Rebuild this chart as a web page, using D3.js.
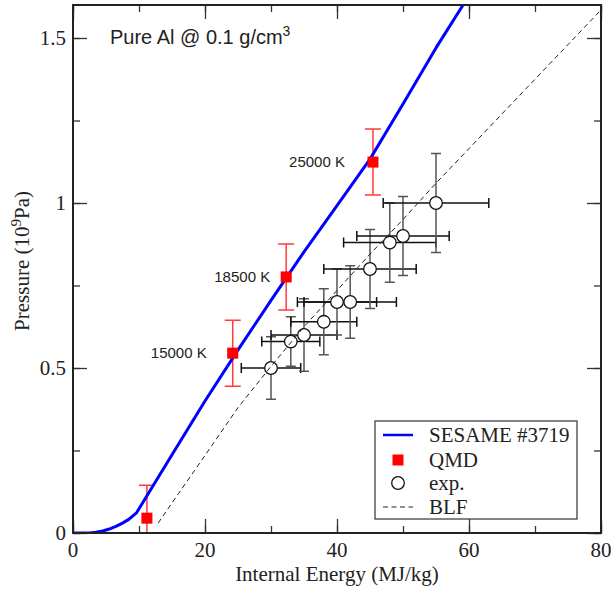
<!DOCTYPE html>
<html lang="en">
<head>
<meta charset="UTF-8">
<title>Pure Al EOS</title>
<style>
  body { margin: 0; background: #fff; }
  svg text { fill: #222; }
</style>
</head>
<body>
<div id="chart"></div>
<script src="https://cdn.jsdelivr.net/npm/d3@7/dist/d3.min.js"></script>
<script>
// SESAME #3719 isochore
const sesameE = [0, 2.5, 3.5, 4.5, 5.5, 6.5, 7.5, 8.5, 9.65, 15, 20, 25, 30, 35, 40, 45, 50, 55, 59.1, 61]
const sesameP = [0, 0, 0.002, 0.006, 0.012, 0.02, 0.03, 0.042, 0.062, 0.237, 0.4, 0.555, 0.705, 0.852, 0.992, 1.133, 1.3, 1.47, 1.6, 1.66]

// BLF fit
const blfE = [12.9, 16, 20, 25, 30, 35, 40, 45, 50, 55, 60, 65, 70, 75, 80]
const blfP = [0.03, 0.12, 0.235, 0.38, 0.505, 0.625, 0.735, 0.845, 0.95, 1.06, 1.165, 1.27, 1.375, 1.48, 1.585]

// QMD points
const qmdE = [11.2, 24.2, 32.3, 45.45]
const qmdP = [0.045, 0.545, 0.776, 1.124]
const qmdErr = [0.1, 0.1, 0.1, 0.1]
const qmdLabels = ['', '15000 K', '18500 K', '25000 K']

// experiment
const expE = [30, 33, 35, 38, 40, 42, 45, 48, 50, 55]
const expP = [0.5, 0.58, 0.6, 0.64, 0.7, 0.7, 0.8, 0.88, 0.9, 1.0]
const expEErr = [4.5, 4.4, 5, 5, 6, 7, 7, 7, 7, 8]
const expPErr = [0.095, 0.075, 0.11, 0.1, 0.1, 0.11, 0.12, 0.12, 0.12, 0.15]

const xTicks = [0, 20, 40, 60, 80]
const yTicks = [0, 0.5, 1, 1.5]
const legendLabels = ['SESAME #3719', 'QMD', 'exp.', 'BLF']

var width = 613, height = 589
var m = {left: 73, right: 12, top: 5, bottom: 56}

var x = d3.scaleLinear().domain([0, 80]).range([m.left, width - m.right])
var y = d3.scaleLinear().domain([0, 1.6]).range([height - m.bottom, m.top])

var svg = d3.select('#chart').append('svg')
    .attr('width', width)
    .attr('height', height)

svg.append('rect').attr('width', width).attr('height', height).attr('fill', '#fff')

svg.append('defs').append('clipPath').attr('id', 'plotclip')
    .append('rect')
    .attr('x', x(0)).attr('y', y(1.6))
    .attr('width', x(80) - x(0)).attr('height', y(0) - y(1.6))

var plot = svg.append('g').attr('clip-path', 'url(#plotclip)')

// ticks, mirrored on all four sides, pointing in
var serif = 'Liberation Serif, Times New Roman, serif'
var sans = 'Liberation Sans, Arial, sans-serif'
var tickCol = '#333'

function inTicks(axis, len) {
    return axis.tickSize(-len).tickFormat('').tickSizeOuter(0)
}
var xMinor = d3.range(0, 81, 10), yMinor = d3.range(0, 1.61, 0.25)

var axes = [
    [d3.axisBottom(x).tickValues(xMinor), `translate(0,${y(0)})`, 7],
    [d3.axisBottom(x).tickValues(xTicks), `translate(0,${y(0)})`, 14],
    [d3.axisTop(x).tickValues(xMinor), `translate(0,${y(1.6)})`, 7],
    [d3.axisTop(x).tickValues(xTicks), `translate(0,${y(1.6)})`, 14],
    [d3.axisLeft(y).tickValues(yMinor), `translate(${x(0)},0)`, 7],
    [d3.axisLeft(y).tickValues(yTicks), `translate(${x(0)},0)`, 14],
    [d3.axisRight(y).tickValues(yMinor), `translate(${x(80)},0)`, 7],
    [d3.axisRight(y).tickValues(yTicks), `translate(${x(80)},0)`, 14]
]
axes.forEach(a => {
    var g = svg.append('g').attr('transform', a[1]).call(inTicks(a[0], a[2]))
    g.select('.domain').remove()
    g.selectAll('line').attr('stroke', tickCol).attr('stroke-width', 1.3)
})

// tick labels
svg.append('g').selectAll('text')
    .data(xTicks).join('text')
    .attr('x', d => x(d)).attr('y', y(0) + 24)
    .attr('text-anchor', 'middle')
    .style('font-family', serif).style('font-size', '21px')
    .text(d => d)

svg.append('g').selectAll('text')
    .data(yTicks).join('text')
    .attr('x', x(0) - 7).attr('y', d => y(d)).attr('dy', '0.33em')
    .attr('text-anchor', 'end')
    .style('font-family', serif).style('font-size', '21px')
    .text(d => d)

svg.append('text')
    .attr('x', (x(0) + x(80)) / 2).attr('y', 581)
    .attr('text-anchor', 'middle')
    .style('font-family', serif).style('font-size', '21px')
    .text('Internal Energy (MJ/kg)')

var yt = svg.append('text')
    .attr('transform', `translate(29,${(y(0) + y(1.6)) / 2 - 8}) rotate(-90)`)
    .attr('text-anchor', 'middle')
    .style('font-family', serif).style('font-size', '21px')
yt.append('tspan').text('Pressure (10')
yt.append('tspan').attr('dy', -8).style('font-size', '15px').text('9')
yt.append('tspan').attr('dy', 8).text('Pa)')

// exp error bars
var expIdx = d3.range(expE.length)
var hCap = 5
var eb = plot.append('g')
expIdx.forEach(i => {
    var cx = x(expE[i]), cy = y(expP[i])
    var x0 = x(expE[i] - expEErr[i]), x1 = x(expE[i] + expEErr[i])
    var y0 = y(expP[i] - expPErr[i]), y1 = y(expP[i] + expPErr[i])
    eb.append('path')
        .attr('d', `M${cx},${y0}V${y1}M${cx - hCap},${y0}H${cx + hCap}M${cx - hCap},${y1}H${cx + hCap}`)
        .attr('stroke', '#555').attr('stroke-width', 1.5).attr('fill', 'none')
    eb.append('path')
        .attr('d', `M${x0},${cy}H${x1}M${x0},${cy - hCap}V${cy + hCap}M${x1},${cy - hCap}V${cy + hCap}`)
        .attr('stroke', '#111').attr('stroke-width', 1.5).attr('fill', 'none')
})

plot.append('g').selectAll('circle')
    .data(expIdx).join('circle')
    .attr('cx', i => x(expE[i])).attr('cy', i => y(expP[i]))
    .attr('r', 6.3)
    .attr('fill', '#fff').attr('stroke', '#111').attr('stroke-width', 1.3)

// BLF dashed
var blfLine = d3.line().x(d => x(d[0])).y(d => y(d[1]))
plot.append('path')
    .datum(blfE.map((e, i) => [e, blfP[i]]))
    .attr('d', blfLine)
    .attr('fill', 'none').attr('stroke', '#222').attr('stroke-width', 1)
    .attr('stroke-dasharray', '5,3.5')

// QMD error bars
var qIdx = d3.range(qmdE.length)
plot.append('g').selectAll('path')
    .data(qIdx).join('path')
    .attr('d', i => {
        var cx = x(qmdE[i]), y0 = y(qmdP[i] - qmdErr[i]), y1 = y(qmdP[i] + qmdErr[i])
        return `M${cx},${y0}V${y1}M${cx - 8},${y0}H${cx + 8}M${cx - 8},${y1}H${cx + 8}`
    })
    .attr('stroke', '#ff3b3b').attr('stroke-width', 1.5).attr('fill', 'none')

// SESAME line
plot.append('path')
    .datum(sesameE.map((e, i) => [e, sesameP[i]]))
    .attr('d', d3.line().x(d => x(d[0])).y(d => y(d[1])))
    .attr('fill', 'none').attr('stroke', '#0000ff').attr('stroke-width', 3)
    .attr('stroke-linejoin', 'round')

// QMD squares
plot.append('g').selectAll('rect')
    .data(qIdx).join('rect')
    .attr('x', i => x(qmdE[i]) - 5.5).attr('y', i => y(qmdP[i]) - 5.5)
    .attr('width', 11).attr('height', 11)
    .attr('fill', '#ff0000')

// temperature labels
var labelDx = [0, 26, 16, 28]
svg.append('g').selectAll('text')
    .data(qIdx.filter(i => qmdLabels[i])).join('text')
    .attr('x', i => x(qmdE[i]) - labelDx[i]).attr('y', i => y(qmdP[i])).attr('dy', '0.35em')
    .attr('text-anchor', 'end')
    .style('font-family', sans).style('font-size', '15px')
    .text(i => qmdLabels[i])

// title inside
var tt = svg.append('text')
    .attr('x', 110).attr('y', 44)
    .style('font-family', sans).style('font-size', '20px')
tt.append('tspan').text('Pure Al @ 0.1 g/cm')
tt.append('tspan').attr('dy', -8).style('font-size', '14px').text('3')

// frame
svg.append('rect')
    .attr('x', x(0)).attr('y', y(1.6))
    .attr('width', x(80) - x(0)).attr('height', y(0) - y(1.6))
    .attr('fill', 'none').attr('stroke', '#222').attr('stroke-width', 2)

// legend
var lg = svg.append('g').attr('transform', 'translate(375,421)')
lg.append('rect').attr('width', 202).attr('height', 98)
    .attr('fill', '#fff').attr('stroke', '#333').attr('stroke-width', 1.2)
var rowY = [14, 39, 62, 86]
lg.append('line').attr('x1', 8).attr('x2', 38).attr('y1', rowY[0]).attr('y2', rowY[0])
    .attr('stroke', '#0000ff').attr('stroke-width', 2.5)
lg.append('rect').attr('x', 23 - 5.5).attr('y', rowY[1] - 5.5).attr('width', 11).attr('height', 11)
    .attr('fill', '#ff0000')
lg.append('circle').attr('cx', 23).attr('cy', rowY[2]).attr('r', 6.3)
    .attr('fill', '#fff').attr('stroke', '#111').attr('stroke-width', 1.3)
lg.append('line').attr('x1', 8).attr('x2', 38).attr('y1', rowY[3]).attr('y2', rowY[3])
    .attr('stroke', '#222').attr('stroke-width', 1).attr('stroke-dasharray', '5,3.5')
lg.selectAll('text.lab')
    .data(legendLabels).join('text')
    .attr('class', 'lab')
    .attr('x', 54).attr('y', (d, i) => rowY[i]).attr('dy', '0.33em')
    .style('font-family', serif).style('font-size', '21px')
    .text(d => d)
</script>
</body>
</html>
